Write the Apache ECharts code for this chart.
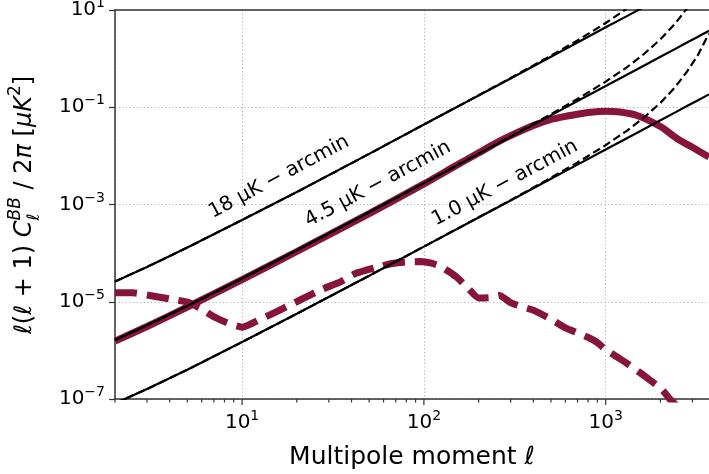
<!DOCTYPE html>
<html>
<head>
<meta charset="utf-8">
<script src="https://cdn.jsdelivr.net/npm/echarts@6/dist/echarts.min.js"></script>
<style>
html, body { margin: 0; padding: 0; background: #fff; }
#chart { width: 709px; height: 474px; }
</style>
</head>
<body>
<div id="chart"></div>
<script>
// multipoles for the noise curves
var noiseEll = [2, 3, 5, 10, 20, 50, 100, 200, 300, 500, 700, 1000, 1300, 1600, 2000, 2400, 2800, 3200, 3700];
var noise18 = [2.6e-5, 5.2e-5, 1.3e-4, 4.8e-4, 1.8e-3, 1.1e-2, 4.4e-2, 0.175, 0.39, 1.09, 2.14, 4.4, 7.4, 11.2];
var noise18Beam = [2.6e-5, 5.2e-5, 1.3e-4, 4.8e-4, 1.8e-3, 1.1e-2, 4.4e-2, 0.176, 0.40, 1.15, 2.37, 5.4, 10.5];
var noise45 = [1.64e-6, 3.3e-6, 8.2e-6, 3.0e-5, 1.15e-4, 6.95e-4, 2.75e-3, 1.10e-2, 2.46e-2, 6.8e-2, 0.134, 0.273, 0.461, 0.698, 1.09, 1.57, 2.14, 2.79, 3.73];
var noise45Beam = [1.64e-6, 3.3e-6, 8.2e-6, 3.0e-5, 1.15e-4, 6.95e-4, 2.75e-3, 1.11e-2, 2.51e-2, 7.2e-2, 0.148, 0.336, 0.654, 1.19, 2.49, 5.16, 10.8];
var noise10 = [8.1e-8, 1.6e-7, 4.0e-7, 1.48e-6, 5.65e-6, 3.43e-5, 1.36e-4, 5.41e-4, 1.21e-3, 3.37e-3, 6.6e-3, 1.35e-2, 2.28e-2, 3.45e-2, 5.39e-2, 7.76e-2, 0.106, 0.138, 0.184];
var noise10Beam = [8.1e-8, 1.6e-7, 4.0e-7, 1.48e-6, 5.65e-6, 3.43e-5, 1.36e-4, 5.45e-4, 1.23e-3, 3.55e-3, 7.3e-3, 1.66e-2, 3.24e-2, 5.87e-2, 0.123, 0.254, 0.54, 1.15, 3.3];

// lensing BB (solid red)
var lensEll = [2, 3, 5, 10, 20, 50, 100, 150, 200, 250, 300, 400, 500, 600, 700, 800, 1000, 1200, 1500, 2000, 2500, 3000, 3700];
var lensBB = [1.55e-6, 3.1e-6, 7.8e-6, 2.85e-5, 1.08e-4, 6.5e-4, 2.65e-3, 6.3e-3, 1.15e-2, 1.85e-2, 2.6e-2, 4.2e-2, 5.6e-2, 6.5e-2, 7.2e-2, 7.8e-2, 8.3e-2, 8.0e-2, 6.7e-2, 4.0e-2, 2.2e-2, 1.5e-2, 9.5e-3];

// primordial BB (dashed red)
var primEll = [2, 2.5, 3, 4, 5, 6, 7, 8, 9, 10, 11, 13, 15, 18, 21, 27, 35, 42, 55, 67, 80, 95, 110, 125, 150, 175, 200, 230, 260, 300, 350, 400, 450, 520, 600, 700, 800, 900, 1000, 1200, 1350, 1650, 2050, 2250, 2600];
var primBB = [1.53e-5, 1.53e-5, 1.38e-5, 1.14e-5, 9.8e-6, 7.1e-6, 4.9e-6, 3.9e-6, 3.3e-6, 3.0e-6, 3.4e-6, 4.6e-6, 5.9e-6, 8.3e-6, 1.1e-5, 1.75e-5, 2.6e-5, 3.8e-5, 5.1e-5, 6.1e-5, 6.6e-5, 6.7e-5, 6.2e-5, 5.2e-5, 3.3e-5, 1.9e-5, 1.2e-5, 1.22e-5, 1.35e-5, 9.6e-6, 7.8e-6, 6.7e-6, 5.4e-6, 4.0e-6, 2.9e-6, 2.3e-6, 1.85e-6, 1.45e-6, 1.03e-6, 6.7e-7, 5.0e-7, 2.9e-7, 1.53e-7, 1.0e-7, 6e-8];

// axis ticks
var xMin = 2, xMax = 3700, yMin = 1e-7, yMax = 10;
var xMajorTicks = [10, 100, 1000];
var xMinorTicks = [2, 3, 4, 5, 6, 7, 8, 9, 20, 30, 40, 50, 60, 70, 80, 90, 200, 300, 400, 500, 600, 700, 800, 900, 2000, 3000];

var lineLabels = ['18 \u03bcK \u2212 arcmin', '4.5 \u03bcK \u2212 arcmin', '1.0 \u03bcK \u2212 arcmin'];

var FONT = '"DejaVu Sans", sans-serif';
var RED = '#871439';
var GRID_LINE = { color: '#b0b0b0', type: [1.2, 2.4], width: 1 };

function pairs(xs, ys) {
  var out = [];
  for (var i = 0; i < ys.length; i++) out.push([xs[i], ys[i]]);
  return out;
}

function powLabel(v) {
  var e = Math.round(Math.log10(v));
  if (Math.abs(v / Math.pow(10, e) - 1) > 1e-6) return '';
  return '{b|10}{s|' + (e < 0 ? '\u2212' + (-e) : e) + '}';
}

var labelRich = {
  b: { fontSize: 20, fontFamily: FONT, color: '#000', lineHeight: 27 },
  s: { fontSize: 14, fontFamily: FONT, color: '#000', verticalAlign: 'top', lineHeight: 16 }
};

function noiseLine(xs, ys, dashed) {
  return {
    type: 'line',
    data: pairs(xs, ys),
    showSymbol: false,
    symbol: 'none',
    z: dashed ? 4 : 3,
    lineStyle: { color: '#000', width: 2.2, type: dashed ? [8, 4] : 'solid' }
  };
}

// y axis title, built from pieces so the C^BB_l stack can be placed
var measureCtx = document.createElement('canvas').getContext('2d');
function textWidth(t, size, italic) {
  measureCtx.font = (italic ? 'italic ' : '') + size + 'px "DejaVu Sans"';
  return measureCtx.measureText(t).width;
}
var titleSize = 24, scriptSize = 17;
var titleParts = [
  { t: '\u2113(\u2113 + 1) ', it: false },
  { t: 'C', it: true },
  { t: 'BB', it: true, sup: true, sub: '\u2113' },
  { t: ' / 2', it: false },
  { t: '\u03c0', it: true },
  { t: ' [', it: false },
  { t: '\u03bcK', it: true },
  { t: '2', it: false, sup: true },
  { t: ']', it: false }
];
var titleChildren = [];
var total = 0;
titleParts.forEach(function (p) {
  p.w = textWidth(p.t, p.sup ? scriptSize : titleSize, p.it);
  total += p.w;
});
var cx = -total / 2;
function piece(t, x, y, size, italic) {
  return {
    type: 'text', x: x, y: y,
    style: {
      text: t, fontSize: size, fontFamily: FONT, fontStyle: italic ? 'italic' : 'normal',
      fill: '#000', align: 'left', verticalAlign: 'middle', textAlign: 'left', textVerticalAlign: 'middle'
    }
  };
}
titleParts.forEach(function (p) {
  if (p.sup) {
    titleChildren.push(piece(p.t, cx, -9, scriptSize, p.it));
    if (p.sub) titleChildren.push(piece(p.sub, cx, 10, scriptSize, true));
  } else {
    titleChildren.push(piece(p.t, cx, 0, titleSize, p.it));
  }
  cx += p.w;
});

var lineLabelPos = [[279, 177], [378, 184], [505, 183]];
var labelAngle = 28 * Math.PI / 180;
var graphics = [{ type: 'group', x: 25, y: 205, rotation: Math.PI / 2, children: titleChildren }];
lineLabels.forEach(function (t, i) {
  graphics.push({
    type: 'text', x: lineLabelPos[i][0], y: lineLabelPos[i][1], rotation: labelAngle, z: 10,
    style: {
      text: t, fontSize: 20, fontFamily: FONT, fill: '#000',
      align: 'center', verticalAlign: 'middle', textAlign: 'center', textVerticalAlign: 'middle'
    }
  });
});

var chart = echarts.init(document.getElementById('chart'));
var option = {
  animation: false,
  backgroundColor: '#fff',
  grid: { left: 115, right: 0, top: 10, bottom: 75, outerBoundsMode: 'none' },
  xAxis: [
    {
      type: 'log',
      logBase: 10,
      min: xMin,
      max: xMax,
      name: 'Multipole moment \u2113',
      nameLocation: 'middle',
      nameGap: 46,
      nameTextStyle: { fontSize: 25, fontFamily: FONT, color: '#000' },
      axisLine: { show: true, lineStyle: { color: '#333', width: 1.5 } },
      axisTick: { show: false },
      axisLabel: { formatter: powLabel, rich: labelRich, margin: 10, showMinLabel: false, showMaxLabel: false },
      splitLine: { show: true, lineStyle: GRID_LINE }
    },
    {
      type: 'log',
      logBase: 10,
      min: xMin,
      max: xMax,
      position: 'top',
      axisLine: { show: true, lineStyle: { color: '#333', width: 1.5 } },
      axisTick: { show: false },
      axisLabel: { show: false },
      splitLine: { show: false }
    }
  ],
  yAxis: {
    type: 'log',
    logBase: 10,
    min: yMin,
    max: yMax,
    interval: 2,
    axisLine: { show: true, lineStyle: { color: '#333', width: 1.5 } },
    axisTick: { show: true, length: 6, lineStyle: { color: '#333', width: 1.2 } },
    axisLabel: { formatter: powLabel, rich: labelRich, margin: 10 },
    splitLine: { show: true, lineStyle: GRID_LINE }
  },
  series: [
    {
      type: 'line',
      data: pairs(lensEll, lensBB),
      showSymbol: false,
      symbol: 'none',
      smooth: 0.2,
      z: 2,
      lineStyle: { color: RED, width: 7 }
    },
    {
      type: 'line',
      data: pairs(primEll, primBB),
      showSymbol: false,
      symbol: 'none',
      smooth: 0.2,
      z: 2,
      lineStyle: { color: RED, width: 7, type: [22, 10], cap: 'butt' }
    },
    noiseLine(noiseEll, noise18, false),
    noiseLine(noiseEll, noise45, false),
    noiseLine(noiseEll, noise10, false),
    noiseLine(noiseEll, noise18Beam, true),
    noiseLine(noiseEll, noise45Beam, true),
    noiseLine(noiseEll, noise10Beam, true)
  ]
};
chart.setOption(option);

// x ticks (major + minor), placed through the axis scale, then one full redraw
function addTicks(ticks, len) {
  ticks.forEach(function (v) {
    var p = chart.convertToPixel({ xAxisIndex: 0, yAxisIndex: 0 }, [v, yMin]);
    graphics.push({
      type: 'line',
      shape: { x1: p[0], y1: p[1], x2: p[0], y2: p[1] + len },
      style: { stroke: '#333', lineWidth: 1.2 }
    });
  });
}
addTicks(xMajorTicks, 6);
addTicks(xMinorTicks, 3.5);
option.graphic = graphics;
chart.setOption(option, true);
</script>
</body>
</html>
